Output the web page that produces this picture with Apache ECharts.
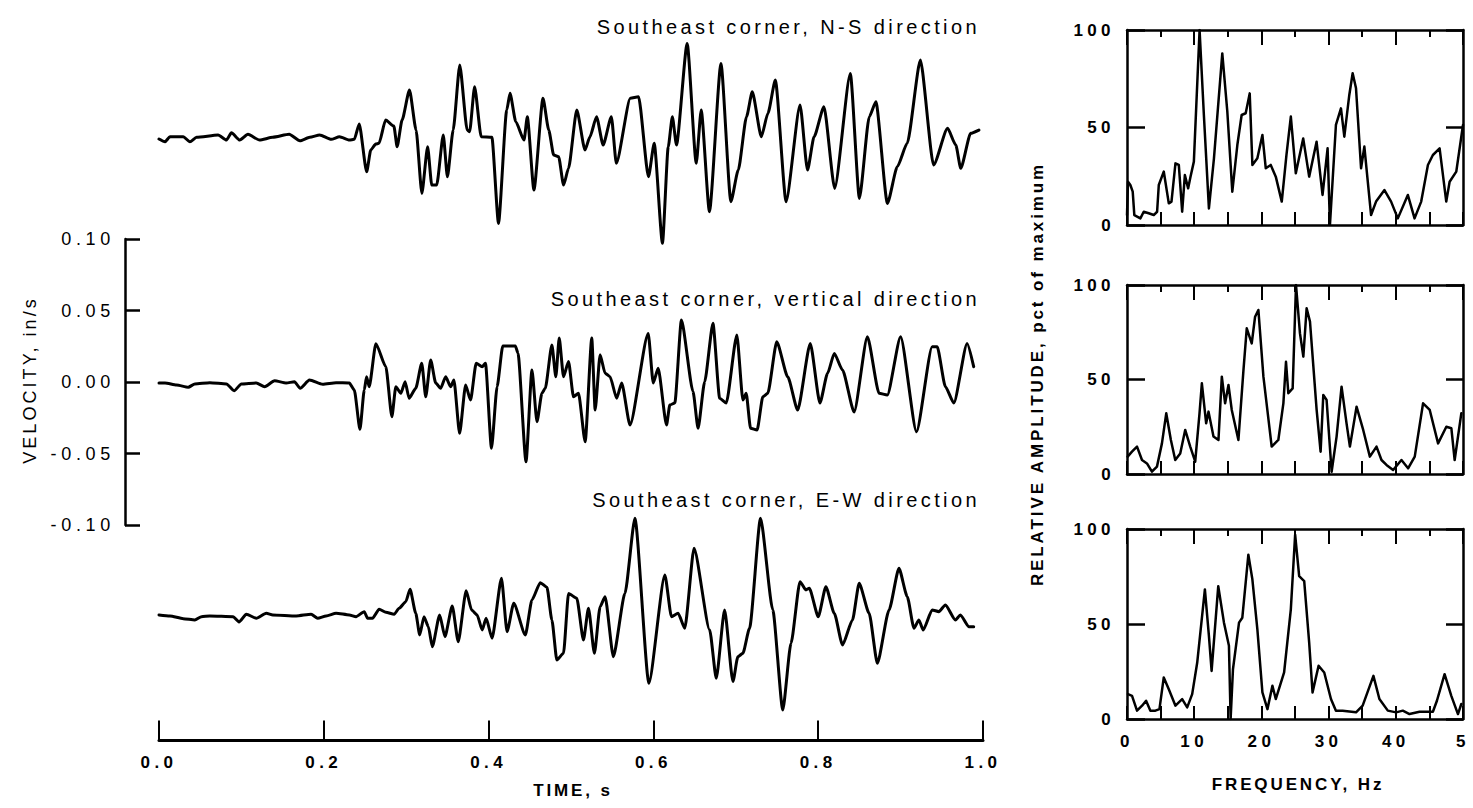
<!DOCTYPE html>
<html><head><meta charset="utf-8">
<script src="https://cdn.jsdelivr.net/npm/echarts@6/dist/echarts.min.js"></script>
<style>html,body{margin:0;padding:0;background:#fff}#c{width:1473px;height:808px}</style>
</head><body><div id="c"></div>
<script>
// ---------------- DATA ----------------
// Velocity traces: [time (s), velocity (in/s)] relative to each trace's own baseline
const nsTrace = [[0,-0.0007],[0.0073,-0.0026],[0.0133,0.0009],[0.0294,0.0009],[0.0375,-0.0026],[0.0456,0.0005],[0.0717,0.0021],[0.0819,-0.0014],[0.0879,0.0037],[0.098,-0.0014],[0.108,0.0026],[0.122,-0.0014],[0.138,0.0005],[0.158,0.0026],[0.171,-0.0019],[0.183,0.0005],[0.195,0.0021],[0.209,-0.0009],[0.219,0.0009],[0.231,-0.0014],[0.237,-0.0009],[0.243,0.0098],[0.252,-0.0236],[0.257,-0.0084],[0.263,-0.0042],[0.267,-0.0037],[0.275,0.0126],[0.285,0.0084],[0.289,-0.0061],[0.295,0.0126],[0.304,0.0336],[0.312,0.0056],[0.319,-0.0387],[0.326,-0.0061],[0.331,-0.0329],[0.337,-0.0329],[0.345,0.0021],[0.350,-0.0271],[0.357,0.0056],[0.365,0.051],[0.374,0.0056],[0.377,0.0044],[0.383,0.0359],[0.391,0.0009],[0.404,0.0005],[0.412,-0.0597],[0.422,0.0196],[0.426,0.0313],[0.433,0.0114],[0.443,-0.0014],[0.447,0.0149],[0.455,-0.0364],[0.466,0.0278],[0.473,0.0056],[0.479,-0.0119],[0.485,-0.0131],[0.491,-0.0329],[0.497,-0.0212],[0.507,0.0196],[0.517,-0.0084],[0.523,0.0009],[0.531,0.0149],[0.539,-0.0049],[0.549,0.0149],[0.555,-0.0177],[0.572,0.0278],[0.582,0.0289],[0.594,-0.0271],[0.601,-0.0037],[0.611,-0.0736],[0.618,-0.0061],[0.623,0.0149],[0.628,-0.0049],[0.641,0.0662],[0.652,-0.0177],[0.658,0.0196],[0.668,-0.0515],[0.682,0.0522],[0.694,-0.0445],[0.703,-0.0224],[0.713,0.0149],[0.720,0.0324],[0.731,0.0009],[0.739,0.0173],[0.748,0.0406],[0.761,-0.0445],[0.778,0.0231],[0.787,-0.0224],[0.795,0.0009],[0.807,0.0219],[0.820,-0.0352],[0.839,0.0452],[0.850,-0.0422],[0.862,0.0149],[0.870,0.0254],[0.884,-0.0457],[0.896,-0.0201],[0.908,-0.0037],[0.924,0.0545],[0.940,-0.0189],[0.957,0.0068],[0.967,-0.0049],[0.973,-0.0212],[0.985,0.0033],[0.995,0.0056]];

const vtTrace = [[0,0],[0.0073,0],[0.0214,-0.0014],[0.0354,-0.003],[0.0435,-0.0007],[0.0617,0.0002],[0.0819,-0.0007],[0.0911,-0.0054],[0.100,-0.0007],[0.1181,0],[0.1282,-0.0026],[0.1403,0.0016],[0.1544,0],[0.1644,0.0009],[0.1713,-0.0037],[0.1826,0.0021],[0.1987,-0.0009],[0.2149,0.0002],[0.231,0],[0.237,-0.0049],[0.2439,-0.0324],[0.2491,-0.0049],[0.2519,0.0044],[0.2551,-0.0026],[0.2632,0.0275],[0.2753,0.0114],[0.2826,-0.0236],[0.2874,-0.0026],[0.2935,-0.0072],[0.2987,0.0009],[0.3035,-0.0107],[0.3116,-0.0037],[0.3189,0.0138],[0.3237,-0.0096],[0.3297,0.0161],[0.3358,0],[0.3418,-0.0037],[0.3479,0.0044],[0.3539,-0.0026],[0.3579,0.0021],[0.3648,-0.0352],[0.3721,-0.0014],[0.3781,-0.0119],[0.3849,0.0138],[0.3922,0.0114],[0.3962,0.0138],[0.4035,-0.0457],[0.4103,-0.0026],[0.4172,0.0259],[0.4325,0.0259],[0.4357,0.0207],[0.4454,-0.0551],[0.4526,0.0091],[0.4587,-0.0271],[0.4647,-0.0072],[0.4688,-0.0037],[0.4768,0.0266],[0.4816,0.0044],[0.4857,0.0314],[0.4909,0.0044],[0.497,0.015],[0.503,-0.0096],[0.5091,-0.0072],[0.5172,-0.0411],[0.5252,0.0314],[0.5293,-0.0189],[0.5353,0.0198],[0.5414,0.0068],[0.5474,0.0044],[0.5554,-0.0107],[0.5615,0],[0.5716,-0.0294],[0.5937,0.0347],[0.5998,0],[0.6058,0.0103],[0.6159,-0.0294],[0.6199,-0.0154],[0.626,-0.014],[0.634,0.0441],[0.6481,-0.006],[0.6542,-0.0317],[0.6622,0.0009],[0.6723,0.0417],[0.6804,-0.0107],[0.6884,-0.014],[0.7013,0.0336],[0.7086,-0.0119],[0.7126,-0.0072],[0.7179,-0.0317],[0.7259,-0.0329],[0.7328,-0.0096],[0.7388,-0.0072],[0.7497,0.0289],[0.763,0.0044],[0.7751,-0.0189],[0.7904,0.0277],[0.8021,-0.014],[0.8114,0.0068],[0.8195,0.0207],[0.8295,0.0091],[0.8436,-0.0203],[0.8597,0.0324],[0.8739,-0.0072],[0.8839,-0.0084],[0.9,0.0324],[0.9193,-0.0341],[0.9383,0.0254],[0.9444,0.0254],[0.9544,-0.0026],[0.9646,-0.014],[0.9807,0.0277],[0.9887,0.0114]];

const ewTrace = [[0,0],[0.0133,-0.0007],[0.0294,-0.0026],[0.0435,-0.0035],[0.0516,-0.0012],[0.0617,-0.0007],[0.0899,-0.0012],[0.0971,-0.0049],[0.106,0.0005],[0.1181,-0.0023],[0.1302,0.0012],[0.1382,0],[0.1665,-0.0007],[0.1846,0.0005],[0.1926,-0.0023],[0.2028,-0.0007],[0.2149,0.0012],[0.231,0],[0.2391,-0.0012],[0.2491,0.0023],[0.2531,-0.0023],[0.2591,-0.0023],[0.2672,0.004],[0.2753,0.0019],[0.2854,0.0005],[0.2914,0.0047],[0.2995,0.0093],[0.3047,0.018],[0.3116,0.0012],[0.3164,-0.014],[0.3216,-0.0012],[0.3269,-0.0082],[0.3317,-0.0222],[0.3406,0],[0.347,-0.0152],[0.3559,0.0063],[0.3631,-0.0187],[0.3728,0.017],[0.3793,0.0035],[0.3861,0],[0.3922,-0.0105],[0.397,-0.0023],[0.4042,-0.0163],[0.4156,0.0256],[0.4224,-0.0117],[0.4305,0.0082],[0.4446,-0.014],[0.4526,0.0105],[0.4627,0.0226],[0.4708,0.0194],[0.4768,-0.0035],[0.4828,-0.0315],[0.4909,-0.0268],[0.497,0.015],[0.507,0.0117],[0.5151,-0.0175],[0.5212,0.0047],[0.5284,-0.0268],[0.5353,0.0058],[0.5414,0.0128],[0.5514,-0.0292],[0.5655,0.0152],[0.5776,0.0676],[0.5945,-0.0478],[0.6139,0.028],[0.6219,-0.0012],[0.63,0.0012],[0.6381,-0.0093],[0.6493,0.0466],[0.6683,-0.0105],[0.6763,-0.0443],[0.6864,0.0035],[0.6965,-0.0466],[0.7025,-0.0292],[0.7086,-0.0268],[0.7167,-0.0093],[0.73,0.0676],[0.7449,0.0035],[0.757,-0.0664],[0.767,-0.0198],[0.7779,0.0233],[0.7851,0.0175],[0.7892,0.0187],[0.8001,-0.0012],[0.8093,0.0198],[0.8195,0.0012],[0.8295,-0.021],[0.8416,-0.0035],[0.8497,0.0222],[0.8618,0.0012],[0.8718,-0.0338],[0.886,0.0035],[0.898,0.0326],[0.9081,0.0128],[0.9162,-0.0093],[0.9222,-0.0035],[0.9274,-0.0105],[0.9383,0.0035],[0.9464,0.0023],[0.9544,0.007],[0.9665,-0.0035],[0.9726,0],[0.9827,-0.0082],[0.9887,-0.0082]];

// Baseline offsets (in/s) used to stack the three traces on one velocity scale
const nsOffset = 0.1713;
const vtOffset = 0;
const ewOffset = -0.1622;

// Fourier amplitude spectra: [frequency (Hz), relative amplitude (% of max)]
const nsSpectrum = [[0,5.1],[0.15,22.2],[0.5,20.5],[0.85,17.1],[1.09,5.1],[1.99,3.4],[2.49,6.8],[3.23,6.0],[3.98,5.1],[4.48,6.8],[4.73,20.5],[5.47,27.4],[6.22,11.1],[6.62,12.0],[7.21,31.6],[7.71,30.8],[8.21,6.8],[8.61,25.6],[9.1,18.8],[9.45,24.8],[9.95,32.5],[10.8,100],[11.44,56.4],[12.19,8.5],[12.94,34.2],[14.18,88.0],[14.93,58.1],[15.67,17.1],[16.42,41.0],[17.06,56.4],[17.66,57.3],[18.26,67.5],[18.66,30.8],[19.4,34.2],[20.15,46.2],[20.65,29.1],[21.39,30.8],[22.14,24.8],[23.03,12.0],[23.73,35.9],[24.38,55.6],[25.12,26.5],[26.22,44.4],[27.11,24.8],[28.21,42.7],[29.1,15.4],[29.85,39.3],[30.2,0],[31.09,51.3],[31.84,59.8],[32.34,45.3],[33.08,66.7],[33.58,77.8],[34.08,70.1],[34.83,29.1],[35.32,40.2],[36.32,5.1],[37.06,12.0],[38.31,17.9],[39.3,12.0],[40.3,3.4],[41.79,15.4],[42.79,3.4],[43.78,12.0],[44.78,30.8],[45.52,35.9],[46.52,39.3],[47.51,12.0],[48.01,22.2],[49.0,27.4],[50,51.3]];

const vtSpectrum = [[0.1,9.2],[0.74,11.8],[1.49,14.5],[2.23,7.4],[2.97,5.6],[3.71,1.2],[4.46,3.9],[5.2,16.2],[5.84,32.1],[6.53,18.0],[7.18,7.4],[7.92,10.9],[8.66,23.3],[9.41,14.5],[10.15,6.5],[10.79,32.1],[11.14,48.0],[11.78,26.8],[12.13,33.0],[12.87,19.8],[13.61,18.0],[14.11,51.5],[14.6,37.4],[15.1,47.1],[15.59,33.9],[16.58,18.0],[17.33,55.0],[17.82,77.1],[18.56,69.1],[19.06,83.2],[19.55,86.8],[20.3,51.5],[21.53,14.5],[22.52,18.0],[23.27,37.4],[23.66,59.4],[24.01,42.7],[24.65,45.3],[25.15,100],[25.74,74.4],[26.24,62.1],[26.73,87.7],[27.23,80.6],[28.22,33.9],[28.81,11.8],[29.21,41.8],[29.7,39.2],[30.45,1.2],[31.19,19.8],[31.93,46.2],[32.67,26.8],[33.17,14.5],[34.16,35.6],[35.15,23.3],[36.14,9.2],[37.13,14.5],[37.87,7.4],[38.61,4.8],[39.6,2.1],[40.84,7.4],[41.83,3.0],[42.82,9.2],[44.06,37.4],[45.05,33.9],[46.29,16.2],[47.52,25.0],[48.27,24.2],[48.76,7.4],[49.75,32.1]];

const ewSpectrum = [[0.15,13.1],[0.75,12.2],[1.49,4.4],[2.24,7.0],[2.84,9.6],[3.48,4.4],[4.23,4.4],[4.83,5.2],[5.47,21.9],[6.22,15.7],[7.21,7.0],[8.21,10.5],[8.96,6.1],[9.7,13.1],[10.45,29.7],[11.59,68.2],[12.19,43.7],[12.59,25.3],[13.58,69.9],[14.43,50.7],[15.17,38.5],[15.42,0],[15.77,26.2],[16.67,50.7],[17.16,53.3],[18.06,86.5],[18.66,73.4],[19.4,47.2],[20.15,14.0],[20.9,5.2],[21.64,17.5],[22.14,10.5],[23.38,24.5],[24.38,57.7],[25.02,97],[25.62,75.2],[26.37,72.6],[27.11,40.2],[27.61,14.0],[28.51,28.0],[29.35,24.5],[30.35,10.5],[31.09,4.4],[32.09,4.4],[34.08,3.5],[35.07,7.0],[36.67,22.7],[37.56,10.5],[38.81,4.4],[40.05,3.5],[41.04,4.4],[42.04,2.6],[43.53,3.8],[45.52,3.8],[46.12,9.6],[47.26,23.6],[48.26,12.2],[49.25,2.6],[49.75,7.9]];

// Tick labels and texts
const timeTickLabels = ['0.0','0.2','0.4','0.6','0.8','1.0'];
const velTickLabels = ['-0.10','-0.05','0.00','0.05','0.10'];
const ampTickLabels = ['0','50','100'];
const freqTickLabels = ['0','10','20','30','40','5'];
const traceTitles = ['Southeast corner, N-S direction','Southeast corner, vertical direction','Southeast corner, E-W direction'];

// ---------------- CHART ----------------
const FONT = '"Liberation Sans", Arial, Helvetica, sans-serif';
const K = '#000';
const chart = echarts.init(document.getElementById('c'), null, {renderer:'svg'});

const grids = [
  {left:125, top:239, width:20, height:286},
  {left:159, top:25.5, width:824, height:715},
  {left:1127, top:30, width:336, height:195},
  {left:1127, top:285, width:336, height:189},
  {left:1127, top:529, width:336, height:190}
];

const xAxes = [
  {gridIndex:0, type:'value', min:0, max:1, show:false},
  {gridIndex:1, type:'value', min:0, max:1, interval:0.2, position:'bottom',
   axisLine:{show:true, onZero:false, lineStyle:{color:K, width:3}},
   axisTick:{show:true, inside:true, length:20, lineStyle:{color:K, width:2}},
   axisLabel:{margin:13, color:K, fontFamily:FONT, fontSize:17, fontWeight:'bold',
     formatter:v => timeTickLabels[Math.round(v/0.2)]},
   splitLine:{show:false}}
];
const yAxes = [
  {gridIndex:0, type:'value', min:-0.1, max:0.1, interval:0.05, position:'left',
   axisLine:{show:true, onZero:false, lineStyle:{color:K, width:2.5}},
   axisTick:{show:true, inside:true, length:15, lineStyle:{color:K, width:2.5}},
   axisLabel:{margin:10, color:K, fontFamily:FONT, fontSize:18,
     formatter:v => velTickLabels[Math.round((v+0.1)/0.05)]},
   splitLine:{show:false}},
  {gridIndex:1, type:'value', min:-0.25, max:0.25, show:false}
];

[0,1,2].forEach(p => {
  const gi = 2 + p;
  xAxes.push({gridIndex:gi, type:'value', min:0, max:50, interval:5, position:'bottom',
    axisLine:{show:true, onZero:false, lineStyle:{color:K, width:2.5}},
    axisTick:{show:true, inside:true, length:13, lineStyle:{color:K, width:2}},
    axisLabel:{show:p===2, margin:14, color:K, fontFamily:FONT, fontSize:17, fontWeight:'bold',
      formatter:v => (Math.abs(v % 10) < 1e-6) ? freqTickLabels[Math.round(v/10)] : ''},
    splitLine:{show:false}});
  xAxes.push({gridIndex:gi, type:'value', min:0, max:50, interval:10, position:'top',
    axisLine:{show:true, onZero:false, lineStyle:{color:K, width:2.5}},
    axisTick:{show:true, inside:true, length:15, lineStyle:{color:K, width:2}},
    axisLabel:{show:false}, splitLine:{show:false}});
  xAxes.push({gridIndex:gi, type:'value', min:0, max:50, interval:5, position:'top',
    axisLine:{show:false, onZero:false},
    axisTick:{show:true, inside:true, length:7, lineStyle:{color:K, width:2}},
    axisLabel:{show:false}, splitLine:{show:false}});
  yAxes.push({gridIndex:gi, type:'value', min:0, max:100, interval:50, position:'left',
    axisLine:{show:true, onZero:false, lineStyle:{color:K, width:2.5}},
    axisTick:{show:true, inside:true, length:18, lineStyle:{color:K, width:2.5}},
    axisLabel:{margin:12, color:K, fontFamily:FONT, fontSize:17, fontWeight:'bold',
      formatter:v => ampTickLabels[Math.round(v/50)]},
    splitLine:{show:false}});
  yAxes.push({gridIndex:gi, type:'value', min:0, max:100, interval:50, position:'right',
    axisLine:{show:true, onZero:false, lineStyle:{color:K, width:2.5}},
    axisTick:{show:true, inside:true, length:17, lineStyle:{color:K, width:2.5}},
    axisLabel:{show:false}, splitLine:{show:false}});
});

const traces = [nsTrace, vtTrace, ewTrace];
const offsets = [nsOffset, vtOffset, ewOffset];
const spectra = [nsSpectrum, vtSpectrum, ewSpectrum];
const series = [];
traces.forEach((tr, i) => series.push({
  type:'line', xAxisIndex:1, yAxisIndex:1, silent:true, symbol:'none', showSymbol:false,
  smooth:0.2, smoothMonotone:'x',
  data: tr.map(p => [p[0], p[1] + offsets[i]]),
  lineStyle:{color:K, width:3, join:'round', cap:'round'}
}));
spectra.forEach((sp, i) => series.push({
  type:'line', xAxisIndex:2 + 3*i, yAxisIndex:2 + 2*i, silent:true, symbol:'none', showSymbol:false,
  data: sp,
  lineStyle:{color:K, width:2.5, join:'round', cap:'round'}
}));

function txt(text, x, y, size, weight, align, rot) {
  return {type:'text', x:x, y:y, rotation:rot || 0, silent:true,
    style:{text:text, fill:K, font: weight + ' ' + size + 'px ' + FONT,
      textAlign:align, textVerticalAlign:'middle', verticalAlign:'middle'}};
}

const option = {
  animation:false,
  backgroundColor:'#fff',
  grid: grids,
  xAxis: xAxes,
  yAxis: yAxes,
  series: series,
  graphic: [
    txt(traceTitles[0], 980, 27, 20, 'normal', 'right'),
    txt(traceTitles[1], 980, 299, 20, 'normal', 'right'),
    txt(traceTitles[2], 980, 500, 20, 'normal', 'right'),
    txt('VELOCITY, in/s', 30, 380, 18, 'normal', 'center', Math.PI/2),
    txt('TIME, s', 573, 790, 17, 'bold', 'center'),
    txt('FREQUENCY, Hz', 1298, 784, 17, 'bold', 'center'),
    txt('RELATIVE AMPLITUDE, pct of maximum', 1037, 374, 17, 'bold', 'center', Math.PI/2)
  ]
};
chart.setOption(option);

// the original typesetting is letter-spaced
function spaceText() {
  document.querySelectorAll('#c svg text').forEach(t => {
    const s = t.textContent || '';
    const ls = /^[-0-9.]+$/.test(s) ? '0.26em' : '0.17em';
    t.setAttribute('letter-spacing', ls);
    t.style.letterSpacing = ls;
  });
}
spaceText();
chart.on('finished', spaceText);
</script>
</body></html>
